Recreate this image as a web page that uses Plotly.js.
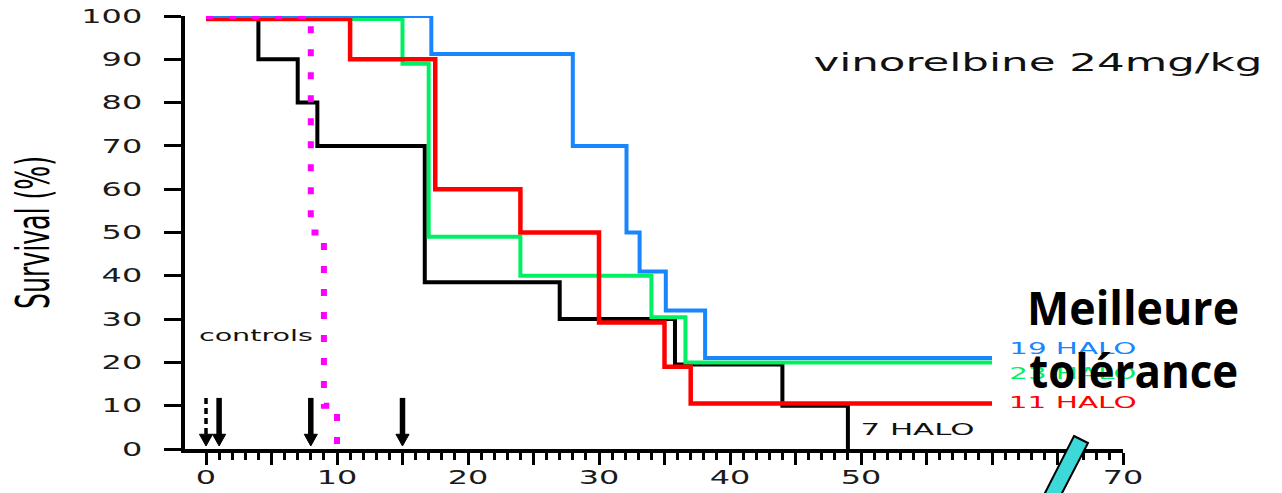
<!DOCTYPE html>
<html>
<head>
<meta charset="utf-8">
<script src="https://cdn.plot.ly/plotly-3.0.1.min.js"></script>
<style>
  html, body { margin: 0; padding: 0; background: #fff; }
  #chart { width: 1282px; height: 493px; }
</style>
</head>
<body>
<div id="chart"></div>
<script>
// ---- Data ----
const daysBlack = [0, 4, 7, 8.5, 16.7, 27, 35.8, 44, 49];
const survBlack = [100, 90, 80, 70, 38.5, 30, 19.5, 10, 0];

const daysGreen = [0, 15, 17, 24, 34, 36.6, 60];
const survGreen = [99.3, 89, 49, 40, 30.4, 20, 20];

const daysRed = [0, 11, 17.5, 24, 30, 35, 37, 60];
const survRed = [99.3, 90, 60, 50, 29.2, 19, 10.5, 10.5];

const daysBlue = [0, 17.2, 28, 32.1, 33.1, 35.1, 38.1, 60];
const survBlue = [100, 91.2, 70, 50, 41, 32, 21, 21];

const daysControls = [0, 8, 9, 10];
const survControls = [100, 50, 10, 0];

const seriesNames = ['7 HALO', '23 HALO', '11 HALO', '19 HALO', 'controls'];

const doseDays = [0, 1, 8, 15];
const doseDashed = [true, false, false, false];

const xTickVals = [0, 5, 10, 15, 20, 25, 30, 35, 40, 45, 50, 55, 60, 65, 70];
const xTickText = ['0', '', '10', '', '20', '', '30', '', '40', '', '50', '', '', '', '70'];
const yTickVals = [0, 10, 20, 30, 40, 50, 60, 70, 80, 90, 100];
const yTickText = ['0', '10', '20', '30', '40', '50', '60', '70', '80', '90', '100'];

const chartNote = 'vinorelbine 24mg/kg';
const calloutLines = ['Meilleure', 'tolérance'];
const yTitle = 'Survival (%)';

// ---- Styles ----
const FONT = 'DejaVu Sans, Verdana, sans-serif';
const C_BLACK = '#000000', C_GREEN = '#00f064', C_RED = '#ff0000', C_BLUE = '#1786ff', C_MAG = '#ff00ff';

function km(x, y, name, color, width, dash) {
  return {
    type: 'scatter', mode: 'lines', x: x, y: y, name: name,
    line: { shape: 'hv', color: color, width: width, dash: dash || 'solid' },
    cliponaxis: false, hoverinfo: 'skip'
  };
}

const traces = [
  km(daysBlack, survBlack, seriesNames[0], C_BLACK, 4),
  km(daysGreen, survGreen, seriesNames[1], C_GREEN, 4),
  km(daysRed, survRed, seriesNames[2], C_RED, 4.5),
  km(daysBlue, survBlue, seriesNames[3], C_BLUE, 4),
  km(daysControls, survControls, seriesNames[4], C_MAG, 6, '7px,16px')
];

// minor tick positions (every day, skipping the 5-day ticks)
const minorVals = [];
for (let d = 1; d < 70; d++) if (d % 5 !== 0) minorVals.push(d);

// dosing arrows
const shapes = [];
doseDays.forEach((d, i) => {
  shapes.push({ type: 'line', xref: 'x', yref: 'y', x0: d, x1: d, y0: 11.8, y1: 3.2,
    line: { color: '#000', width: doseDashed[i] ? 3.5 : 5.5, dash: doseDashed[i] ? '6px,4px' : 'solid' } });
  shapes.push({ type: 'path', xref: 'x', yref: 'y',
    path: `M ${d - 0.5},3.4 L ${d + 0.5},3.4 L ${d},0.7 Z`,
    fillcolor: '#000', line: { color: '#000', width: 1 } });
});
// axis-break slash
shapes.push({ type: 'path', xref: 'paper', yref: 'paper', layer: 'above',
  path: 'M 0.94776,0.03002 L 0.96269,0.01386 L 0.93113,-0.11778 L 0.91301,-0.11778 Z',
  fillcolor: '#3dd8d8', line: { color: '#000', width: 2 } });

function lab(text, x, y, color, size) {
  return { text: text, x: x, y: y, xref: 'x', yref: 'y', showarrow: false,
    xanchor: 'center', yanchor: 'middle', font: { family: FONT, size: size, color: color } };
}

const annotations = [
  lab(seriesNames[3], 66.15, 23.2, C_BLUE, 16.5),
  lab(seriesNames[1], 66.15, 17.4, C_GREEN, 16.5),
  lab(seriesNames[2], 66.15, 10.7, C_RED, 16.5),
  lab(seriesNames[0], 54.3, 4.5, '#111', 16.5),
  lab(seriesNames[4], 3.82, 26.3, '#111', 16),
  lab(chartNote, 63.5, 89.3, '#111', 25),
  { text: calloutLines[0], xref: 'paper', yref: 'paper', x: 1.0107, y: 0.328, showarrow: false,
    xanchor: 'center', yanchor: 'middle', font: { family: 'Open Sans, Lato, sans-serif', size: 46, color: '#000', weight: 700 } },
  { text: calloutLines[1], xref: 'paper', yref: 'paper', x: 1.0107, y: 0.1824, showarrow: false,
    xanchor: 'center', yanchor: 'middle', font: { family: 'Open Sans, Lato, sans-serif', size: 46, color: '#000', weight: 700 } }
];

const layout = {
  width: 1282, height: 493,
  margin: { l: 185, r: 159, t: 16, b: 44, pad: 0 },
  paper_bgcolor: '#fff', plot_bgcolor: '#fff',
  showlegend: false,
  font: { family: FONT, color: '#111' },
  xaxis: {
    range: [-1.603, 70], showline: true, linewidth: 4, linecolor: '#000',
    showgrid: false, zeroline: false,
    tickmode: 'array', tickvals: xTickVals, ticktext: xTickText,
    ticks: 'outside', ticklen: 12, tickwidth: 3, tickcolor: '#000',
    minor: { tickmode: 'array', tickvals: minorVals, ticks: 'outside', ticklen: 7, tickwidth: 3, tickcolor: '#000', showgrid: false },
    tickfont: { family: FONT, size: 20, color: '#1a1a1a' },
    ticklabelstandoff: -5
  },
  yaxis: {
    range: [0, 100], showline: true, linewidth: 4, linecolor: '#000',
    showgrid: false, zeroline: false,
    tickmode: 'array', tickvals: yTickVals, ticktext: yTickText,
    ticks: 'outside', ticklen: 17, tickwidth: 3, tickcolor: '#000',
    tickfont: { family: FONT, size: 19, color: '#1a1a1a' },
    ticklabelstandoff: 18,
    title: { text: yTitle, standoff: 43, font: { family: 'Liberation Sans Narrow, DejaVu Sans Condensed, DejaVu Sans, sans-serif', size: 46, color: '#000' } }
  },
  shapes: shapes,
  annotations: annotations
};

// stretch wide lettering to the widths seen in the reference
const textWidths = {
  '19 HALO': 127, '23 HALO': 127, '11 HALO': 128, '7 HALO': 114, 'controls': 114,
  'vinorelbine 24mg/kg': 449, 'Meilleure': 212, 'tolérance': 209, 'Survival (%)': 153
};
function setLen(t, w) {
  if (!t.textContent || !w) return;
  t.setAttribute('textLength', w);
  t.setAttribute('lengthAdjust', 'spacingAndGlyphs');
}
function fitText() {
  const gd = document.getElementById('chart');
  gd.querySelectorAll('g.xtick text, g.ytick text').forEach(t => setLen(t, t.textContent.length * 20.3));
  gd.querySelectorAll('text.ytitle, g.annotation text').forEach(t => setLen(t, textWidths[t.textContent]));
}

Plotly.newPlot('chart', traces, layout, { displayModeBar: false, responsive: false, staticPlot: true })
  .then(fitText);
</script>
</body>
</html>
